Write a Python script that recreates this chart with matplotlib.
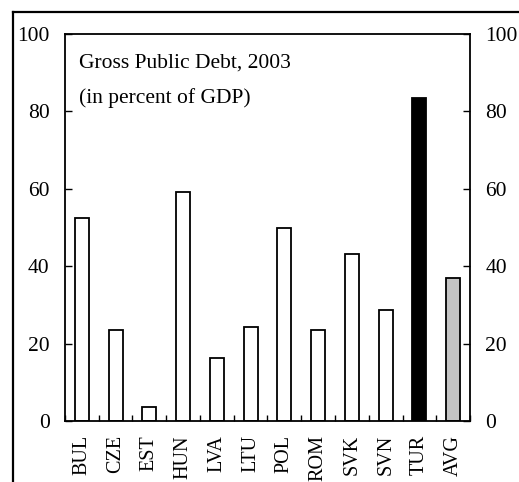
"""Gross public debt, 2003 (percent of GDP)"""
import matplotlib.pyplot as plt
import numpy as np
from matplotlib.lines import Line2D

countries = ["BUL", "CZE", "EST", "HUN", "LVA", "LTU", "POL", "ROM", "SVK", "SVN", "TUR", "AVG"]
debt = [52.4, 23.5, 3.6, 59.1, 16.2, 24.4, 49.9, 23.5, 43.2, 28.8, 83.5, 37.0]
yticks = [0, 20, 40, 60, 80, 100]

plt.rcParams['font.family'] = ['Liberation Serif', 'DejaVu Serif']

fig = plt.figure(figsize=(5.19, 4.82), dpi=100)
ax = fig.add_axes([0.1252, 0.1261, 0.7804, 0.804])

x = np.arange(len(countries))
colors = ['white'] * len(countries)
colors[countries.index("TUR")] = 'black'
colors[countries.index("AVG")] = '#c4c4c4'
ax.bar(x, debt, width=0.42, color=colors, edgecolor='black', linewidth=1.3)

ax.set_xlim(-0.5, len(countries) - 0.5)
ax.set_ylim(0, 100)
ax.set_yticks(yticks)
ax.tick_params(axis='y', direction='in', length=5, width=1, labelsize=15.5,
               left=True, right=True, labelleft=True, labelright=True, pad=11)

# category labels sit under the bars, ticks go between the bars
ax.set_xticks(x)
ax.set_xticklabels(countries, rotation=90, fontsize=14.5)
ax.tick_params(axis='x', which='major', length=0, pad=10)
ax.set_xticks(np.arange(len(countries) + 1) - 0.5, minor=True)
ax.tick_params(axis='x', which='minor', direction='in', length=4, width=1)

for s in ax.spines.values():
    s.set_linewidth(1.3)

ax.text(0.035, 0.925, "Gross Public Debt, 2003", transform=ax.transAxes,
        fontsize=15.5, va='center', ha='left')
ax.text(0.035, 0.835, "(in percent of GDP)", transform=ax.transAxes,
        fontsize=15.5, va='center', ha='left')

# outer frame (left and top edges)
fig.add_artist(Line2D([13 / 519, 13 / 519], [0, 1 - 12 / 482], color='black', lw=1.6))
fig.add_artist(Line2D([13 / 519, 1], [1 - 12 / 482, 1 - 12 / 482], color='black', lw=1.6))

fig.savefig("out.png", dpi=100)
